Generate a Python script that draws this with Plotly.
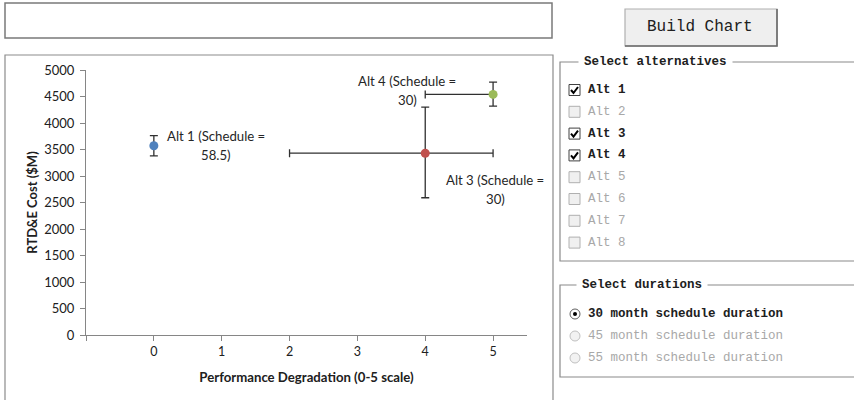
import plotly.graph_objects as go

# ---------------- data ----------------
alternatives = ["Alt 1", "Alt 3", "Alt 4"]
schedules = ["58.5", "30", "30"]
perf_degradation = [0, 4, 5]
rtde_cost = [3570, 3430, 4540]
cost_err_plus = [190, 870, 230]
cost_err_minus = [190, 840, 220]
perf_err_plus = [0, 1, 0]
perf_err_minus = [0, 2, 1]
colors = ["#4F81BD", "#C0504D", "#9BBB59"]
x_ticks = [-1, 0, 1, 2, 3, 4, 5]
x_tick_labels = ["", "0", "1", "2", "3", "4", "5"]
y_ticks = [0, 500, 1000, 1500, 2000, 2500, 3000, 3500, 4000, 4500, 5000]

alt_items = ["Alt 1", "Alt 2", "Alt 3", "Alt 4", "Alt 5", "Alt 6", "Alt 7", "Alt 8"]
alt_checked = [True, False, True, True, False, False, False, False]
duration_items = ["30 month schedule duration", "45 month schedule duration",
                  "55 month schedule duration"]
duration_selected = [True, False, False]

W, H = 854, 400
def px(x):
    return x / W
def py(y):
    return 1 - y / H

fig = go.Figure()

for i, name in enumerate(alternatives):
    show_x_err = perf_err_plus[i] > 0 or perf_err_minus[i] > 0
    fig.add_trace(go.Scatter(
        x=[perf_degradation[i]], y=[rtde_cost[i]],
        mode="markers", name=name,
        marker=dict(color=colors[i], size=9),
        error_y=dict(type="data", symmetric=False, array=[cost_err_plus[i]],
                     arrayminus=[cost_err_minus[i]], color="#303030",
                     thickness=1.3, width=4),
        error_x=dict(type="data", symmetric=False, array=[perf_err_plus[i]],
                     arrayminus=[perf_err_minus[i]], color="#303030",
                     thickness=1.3, width=4, visible=show_x_err),
        showlegend=False,
    ))

# data labels (two centred lines each)
label_offsets = [(62, 0), (70, -36), (-86, 4)]
annotations = []
for i, name in enumerate(alternatives):
    lines = [f"{name} (Schedule =", f"{schedules[i]})"]
    dx, dy = label_offsets[i]
    for k, line in enumerate(lines):
        annotations.append(dict(
            x=perf_degradation[i], y=rtde_cost[i], xref="x", yref="y",
            text=line, showarrow=False, xanchor="center", yanchor="middle",
            xshift=dx, yshift=dy + (9.5 if k == 0 else -9.5),
            font=dict(family="Lato", size=13.2, color="#262626"),
        ))

shapes = []

# top text box
shapes.append(dict(type="rect", xref="paper", yref="paper", x0=px(5), x1=px(552),
                   y0=py(38), y1=py(3), line=dict(color="#7a7a7a", width=1.5),
                   fillcolor="white"))
# Build Chart button (with 3D shadow on right/bottom)
shapes.append(dict(type="rect", xref="paper", yref="paper", x0=px(625), x1=px(777),
                   y0=py(46), y1=py(9), line=dict(color="#b0b0b0", width=1.2),
                   fillcolor="#efefef"))
shapes.append(dict(type="path", xref="paper", yref="paper",
                   path=f"M {px(625)} {py(46)} L {px(777)} {py(46)} L {px(777)} {py(9)}",
                   line=dict(color="#6a6a6a", width=1.6)))
annotations.append(dict(x=px(700), y=py(27), xref="paper", yref="paper",
                        text="Build Chart", showarrow=False,
                        xanchor="center", yanchor="middle",
                        font=dict(family="Liberation Mono", size=16, color="#202020")))
# chart frame
shapes.append(dict(type="rect", xref="paper", yref="paper", x0=px(5), x1=px(553),
                   y0=py(410), y1=py(55), line=dict(color="#8c8c8c", width=1.2),
                   fillcolor="rgba(0,0,0,0)", layer="below"))

# group box: Select alternatives
shapes.append(dict(type="rect", xref="paper", yref="paper", x0=px(560), x1=px(870),
                   y0=py(261), y1=py(62), line=dict(color="#8a8a8a", width=1.2)))
annotations.append(dict(x=px(578), y=py(62), xref="paper", yref="paper",
                        text="<b>Select alternatives</b>", showarrow=False,
                        xanchor="left", yanchor="middle",
                        bgcolor="white", borderpad=5,
                        font=dict(family="Liberation Mono", size=12.5, color="#202020")))
item_y0, item_dy = 90, 21.8
for i, (lab, chk) in enumerate(zip(alt_items, alt_checked)):
    yc = item_y0 + i * item_dy
    shapes.append(dict(type="rect", xref="paper", yref="paper",
                       x0=px(569), x1=px(580), y0=py(yc + 5.5), y1=py(yc - 5.5),
                       line=dict(color="#404040" if chk else "#b0b0b0", width=1),
                       fillcolor="white" if chk else "#f0f0f0"))
    if chk:
        path = (f"M {px(571)} {py(yc)} L {px(573.5)} {py(yc + 3)} "
                f"L {px(578)} {py(yc - 3)}")
        shapes.append(dict(type="path", xref="paper", yref="paper", path=path,
                           line=dict(color="black", width=2)))
    annotations.append(dict(x=px(586), y=py(yc), xref="paper", yref="paper",
                            text=f"<b>{lab}</b>" if chk else lab, showarrow=False,
                            xanchor="left", yanchor="middle",
                            font=dict(family="Liberation Mono", size=12.5,
                                      color="#202020" if chk else "#a8a8a8")))

# group box: Select durations
shapes.append(dict(type="rect", xref="paper", yref="paper", x0=px(560), x1=px(870),
                   y0=py(377), y1=py(285), line=dict(color="#8a8a8a", width=1.2)))
annotations.append(dict(x=px(576), y=py(285), xref="paper", yref="paper",
                        text="<b>Select durations</b>", showarrow=False,
                        xanchor="left", yanchor="middle",
                        bgcolor="white", borderpad=5,
                        font=dict(family="Liberation Mono", size=12.5, color="#202020")))
for i, (lab, sel) in enumerate(zip(duration_items, duration_selected)):
    yc = 314 + i * 22
    shapes.append(dict(type="circle", xref="paper", yref="paper",
                       x0=px(570), x1=px(580), y0=py(yc + 5), y1=py(yc - 5),
                       line=dict(color="#606060" if sel else "#c0c0c0", width=1),
                       fillcolor="white" if sel else "#f2f2f2"))
    if sel:
        shapes.append(dict(type="circle", xref="paper", yref="paper",
                           x0=px(573), x1=px(577), y0=py(yc + 2), y1=py(yc - 2),
                           line=dict(color="black", width=0), fillcolor="black"))
    annotations.append(dict(x=px(586), y=py(yc), xref="paper", yref="paper",
                            text=f"<b>{lab}</b>" if sel else lab, showarrow=False,
                            xanchor="left", yanchor="middle",
                            font=dict(family="Liberation Mono", size=12.5,
                                      color="#202020" if sel else "#a8a8a8")))

fig.update_layout(
    template="none",
    width=W, height=H, margin=dict(l=0, r=0, t=0, b=0, pad=0),
    paper_bgcolor="white", plot_bgcolor="white",
    shapes=shapes, annotations=annotations,
    xaxis=dict(domain=[px(86), px(527)], range=[-1.0, 5.5], automargin=False,
               tickvals=x_ticks, ticktext=x_tick_labels,
               showgrid=False, zeroline=False, showline=True,
               linecolor="#868686", linewidth=1.2, ticks="outside", ticklen=5,
               tickcolor="#868686",
               tickfont=dict(family="Lato", size=12.5, color="#202020"),
               title=dict(text="<b>Performance Degradation (0-5 scale)</b>",
                          font=dict(family="Lato", size=13.2, color="#202020"),
                          standoff=14)),
    yaxis=dict(domain=[py(335), py(70)], range=[0, 5000], automargin=False,
               tickvals=y_ticks, ticklabelstandoff=3,
               showgrid=False, zeroline=False, showline=True,
               linecolor="#868686", linewidth=1.2, ticks="outside", ticklen=5,
               tickcolor="#868686",
               tickfont=dict(family="Lato", size=13, color="#202020"),
               title=dict(text="<b>RTD&E Cost ($M)</b>",
                          font=dict(family="Lato", size=13, color="#202020"),
                          standoff=3)),
)

fig.write_html("out.html", config={"displayModeBar": False},
               post_script="document.body.style.margin='0px';")
